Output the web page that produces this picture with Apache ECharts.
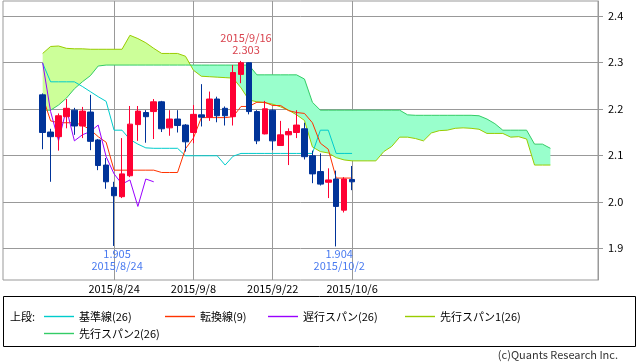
<!DOCTYPE html>
<html><head><meta charset="utf-8">
<script src="https://cdn.jsdelivr.net/npm/echarts@6/dist/echarts.min.js"></script>
<style>html,body{margin:0;padding:0;background:#fff}#c{width:638px;height:362px}</style>
</head><body><div id="c"></div>
<script>
// ---- data ----
const dates = ['2015/8/11','2015/8/12','2015/8/13','2015/8/14','2015/8/17','2015/8/18','2015/8/19','2015/8/20','2015/8/21',
  '2015/8/24','2015/8/25','2015/8/26','2015/8/27','2015/8/28','2015/8/31','2015/9/1','2015/9/2','2015/9/3','2015/9/4',
  '2015/9/8','2015/9/9','2015/9/10','2015/9/11','2015/9/14','2015/9/15','2015/9/16','2015/9/17','2015/9/18',
  '2015/9/21','2015/9/22','2015/9/23','2015/9/24','2015/9/25','2015/9/28','2015/9/29','2015/9/30','2015/10/1','2015/10/2',
  '2015/10/5','2015/10/6'];
const labelDates = ['2015/8/24','2015/9/8','2015/9/22','2015/10/6'];
const yTicks = [1.9, 2.0, 2.1, 2.2, 2.3, 2.4];

const open  = [2.230,2.150,2.140,2.183,2.197,2.163,2.193,2.133,2.079,2.031,2.011,2.056,2.166,2.192,2.194,2.215,2.159,2.178,2.165,2.149,
               2.187,2.182,2.221,2.201,2.183,2.274,2.299,2.194,2.146,2.197,2.121,2.144,2.149,2.157,2.099,2.065,2.042,2.049,1.982,2.048];
const close = [2.149,2.140,2.185,2.201,2.163,2.195,2.130,2.078,2.043,2.013,2.060,2.167,2.195,2.183,2.215,2.157,2.178,2.164,2.129,2.188,
               2.182,2.221,2.185,2.185,2.278,2.299,2.194,2.131,2.200,2.131,2.144,2.151,2.165,2.097,2.060,2.038,2.047,1.990,2.049,2.043];
const low   = [2.113,2.043,2.110,2.158,2.144,2.137,2.111,2.068,2.028,1.905,2.008,2.053,2.131,2.127,2.135,2.150,2.142,2.149,2.108,2.126,
               2.162,2.174,2.171,2.164,2.164,2.255,2.188,2.124,2.145,2.111,2.120,2.079,2.137,2.091,2.040,2.035,2.008,1.904,1.977,2.025];
const high  = [2.233,2.157,2.190,2.221,2.202,2.204,2.230,2.135,2.094,2.043,2.137,2.206,2.206,2.197,2.221,2.217,2.197,2.197,2.167,2.208,
               2.253,2.237,2.226,2.205,2.294,2.303,2.300,2.197,2.217,2.199,2.174,2.158,2.197,2.170,2.110,2.104,2.072,2.067,2.053,2.077];

const kijun  = [2.298,2.258,2.258,2.258,2.258,2.248,2.237,2.226,2.216,2.154,2.154,2.134,2.124,2.116,2.115,2.115,2.115,2.115,2.099,2.099,
                2.099,2.099,2.099,2.079,2.098,2.104,2.104,2.104,2.104,2.104,2.104,2.104,2.104,2.104,2.104,2.154,2.154,2.104,2.104,2.104];
const tenkan = [2.226,2.174,2.170,2.170,2.170,2.165,2.155,2.140,2.128,2.068,2.068,2.068,2.068,2.068,2.068,2.063,2.063,2.063,2.114,2.137,
                2.181,2.181,2.181,2.181,2.183,2.205,2.205,2.214,2.214,2.207,2.207,2.196,2.192,2.190,2.170,2.126,2.113,2.051,2.051,2.051];
const chikou = [2.299,2.194,2.131,2.200,2.131,2.144,2.151,2.165,2.097,2.060,2.038,2.047,1.990,2.049,2.043];
const senkouA = [2.319,2.334,2.335,2.330,2.329,2.329,2.328,2.328,2.328,2.328,2.328,2.358,2.351,2.342,2.330,2.319,2.319,2.319,2.313,2.283,
                 2.270,2.269,2.268,2.267,2.266,2.245,2.219,2.215,2.213,2.210,2.204,2.197,2.187,2.175,2.118,2.108,2.105,2.095,2.090,2.088,
                 2.088,2.088,2.088,2.108,2.119,2.139,2.139,2.136,2.131,2.148,2.153,2.154,2.158,2.159,2.158,2.156,2.147,2.147,2.147,2.139,
                 2.140,2.135,2.079,2.079,2.079];
const senkouB = [2.197,2.197,2.208,2.223,2.243,2.258,2.271,2.292,2.294,2.294,2.294,2.294,2.294,2.294,2.294,2.294,2.294,2.294,2.294,2.294,
                 2.294,2.294,2.294,2.294,2.294,2.294,2.294,2.273,2.273,2.273,2.273,2.273,2.273,2.264,2.214,2.197,2.197,2.197,2.197,2.197,
                 2.197,2.197,2.197,2.197,2.197,2.197,2.187,2.186,2.186,2.186,2.186,2.186,2.186,2.186,2.186,2.185,2.178,2.168,2.154,2.154,
                 2.154,2.154,2.124,2.124,2.115];
const highMark = {date: '2015/9/16', value: 2.303};
const lowMarks = [{date: '2015/8/24', value: 1.905}, {date: '2015/10/2', value: 1.904}];
const names = ['基準線(26)', '転換線(9)', '遅行スパン(26)', '先行スパン1(26)', '先行スパン2(26)'];

// ---- layout / style ----
const PAD_L = 5, PAD_R = 31;
const categories = [];
for (let i = 0; i < PAD_L; i++) categories.push('pre' + i);
dates.forEach(d => categories.push(d));
for (let i = 0; i < PAD_R; i++) categories.push('fut' + i);
const OFF = PAD_L;
const FONT = "'Noto Sans CJK JP', 'Noto Sans', sans-serif";
const C_KIJUN = '#00CCCC', C_TENKAN = '#FF3300', C_CHIKOU = '#9900FF', C_SA = '#99CC00', C_SB = '#33CC66';
const FILL_A = '#CCFF99', FILL_B = '#99FFCC';
const UP = '#FF0033', DOWN = '#003399';
const colors = [C_KIJUN, C_TENKAN, C_CHIKOU, C_SA, C_SB];

const pairs = arr => arr.map((v, i) => [i + OFF, v]);
const isLabel = (idx, val) => labelDates.indexOf(val) >= 0;

function renderCloud(params, api) {
  const pts = senkouA.map((a, i) => ({a: api.coord([i + OFF, a]), b: api.coord([i + OFF, senkouB[i]]), d: a - senkouB[i]}));
  const children = [];
  let runA = [], runB = [], sign = null;
  const flush = () => {
    if (runA.length > 1) children.push({type: 'polygon', shape: {points: runA.concat(runB.slice().reverse())},
      style: {fill: sign > 0 ? FILL_A : FILL_B}});
  };
  for (let i = 0; i < pts.length; i++) {
    const p = pts[i];
    const s = p.d >= 0 ? 1 : -1;
    if (sign === null) { sign = s; runA = [p.a]; runB = [p.b]; continue; }
    if (s !== sign) {
      const q = pts[i - 1];
      const t = q.d / (q.d - p.d);
      const c = [q.a[0] + t * (p.a[0] - q.a[0]), q.a[1] + t * (p.a[1] - q.a[1])];
      runA.push(c); runB.push(c); flush();
      sign = s; runA = [c]; runB = [c];
    }
    runA.push(p.a); runB.push(p.b);
  }
  flush();
  return {type: 'group', children};
}

const lineSeries = (name, data, color, z) => ({
  name, type: 'line', data: pairs(data), showSymbol: false, symbol: 'none', z,
  lineStyle: {color, width: 1}, itemStyle: {color}, animation: false, silent: true
});

const legendPos = [[44, 311], [165, 311], [268, 311], [405, 311], [44, 328]];
const legends = names.map((n, i) => ({
  data: [{name: n, itemStyle: {color: colors[i], borderWidth: 0, opacity: 1}}],
  left: legendPos[i][0], top: legendPos[i][1], padding: 0,
  icon: 'rect', itemWidth: 30, itemHeight: 1.4, itemGap: 0, selectedMode: false,
  textStyle: {fontSize: 11, color: '#000', fontFamily: FONT}
}));

const chart = echarts.init(document.getElementById('c'), null, {renderer: 'canvas'});
chart.setOption({
  animation: false,
  backgroundColor: '#fff',
  textStyle: {fontFamily: FONT},
  grid: {left: 3, right: 40, top: 1, bottom: 82, show: true, borderColor: '#999', borderWidth: 1, backgroundColor: '#fff'},
  xAxis: {
    type: 'category', data: categories, boundaryGap: false,
    axisLine: {show: false}, axisTick: {show: false},
    axisLabel: {interval: isLabel, margin: 3, fontSize: 11, color: '#000', fontFamily: FONT},
    splitLine: {show: true, interval: isLabel, lineStyle: {color: '#999', width: 1}}
  },
  yAxis: {
    type: 'value', position: 'right', min: 1.8318, max: 2.4318, splitNumber: 6,
    axisLine: {show: true, lineStyle: {color: '#999'}},
    axisTick: {show: true, length: 5, lineStyle: {color: '#999'}, customValues: yTicks},
    axisLabel: {margin: 10, fontSize: 11, color: '#000', fontFamily: FONT, customValues: yTicks,
      formatter: v => v.toFixed(1)},
    splitLine: {show: true, lineStyle: {color: '#999', width: 1}}
  },
  legend: legends,
  graphic: [
    {type: 'rect', shape: {x: 3.5, y: 296.5, width: 632, height: 50}, style: {fill: 'none', stroke: '#000', lineWidth: 1}, silent: true},
    {type: 'text', left: 10, top: 311, style: {text: '上段:', fontSize: 11, fill: '#000', fontFamily: FONT}, silent: true},
    {type: 'text', right: 20, top: 349, style: {text: '(c)Quants Research Inc.', fontSize: 11, fill: '#333', fontFamily: FONT}, silent: true}
  ],
  series: [
    {type: 'custom', name: 'cloud', data: [[OFF, senkouA[0]]], renderItem: renderCloud, z: 1, silent: true},
    lineSeries(names[3], senkouA, C_SA, 2),
    lineSeries(names[4], senkouB, C_SB, 2),
    lineSeries(names[0], kijun, C_KIJUN, 3),
    lineSeries(names[1], tenkan, C_TENKAN, 3),
    lineSeries(names[2], chikou, C_CHIKOU, 3),
    {
      type: 'candlestick', name: '価格', z: 4, barWidth: 6,
      data: dates.map((d, i) => [i + OFF, open[i], close[i], low[i], high[i]]),
      encode: {x: 0, y: [1, 2, 3, 4]},
      itemStyle: {color: UP, color0: DOWN, borderColor: UP, borderColor0: DOWN, borderWidth: 1},
      markPoint: {
        symbol: 'circle', symbolSize: 1, itemStyle: {color: 'rgba(0,0,0,0)'}, silent: true,
        data: [
          {coord: [highMark.date, highMark.value], label: {show: true, position: 'top', distance: 5, offset: [5, 0],
            formatter: highMark.date + '\n' + highMark.value.toFixed(3), color: '#D9434E', fontSize: 11, lineHeight: 12, fontFamily: FONT}}
        ].concat(lowMarks.map(m => ({coord: [m.date, m.value], label: {show: true, position: 'bottom', distance: 1, offset: [3, 0],
            formatter: m.value.toFixed(3) + '\n' + m.date, color: '#4A7BF0', fontSize: 11, lineHeight: 12, fontFamily: FONT}})))
      }
    }
  ]
});
</script></body></html>
